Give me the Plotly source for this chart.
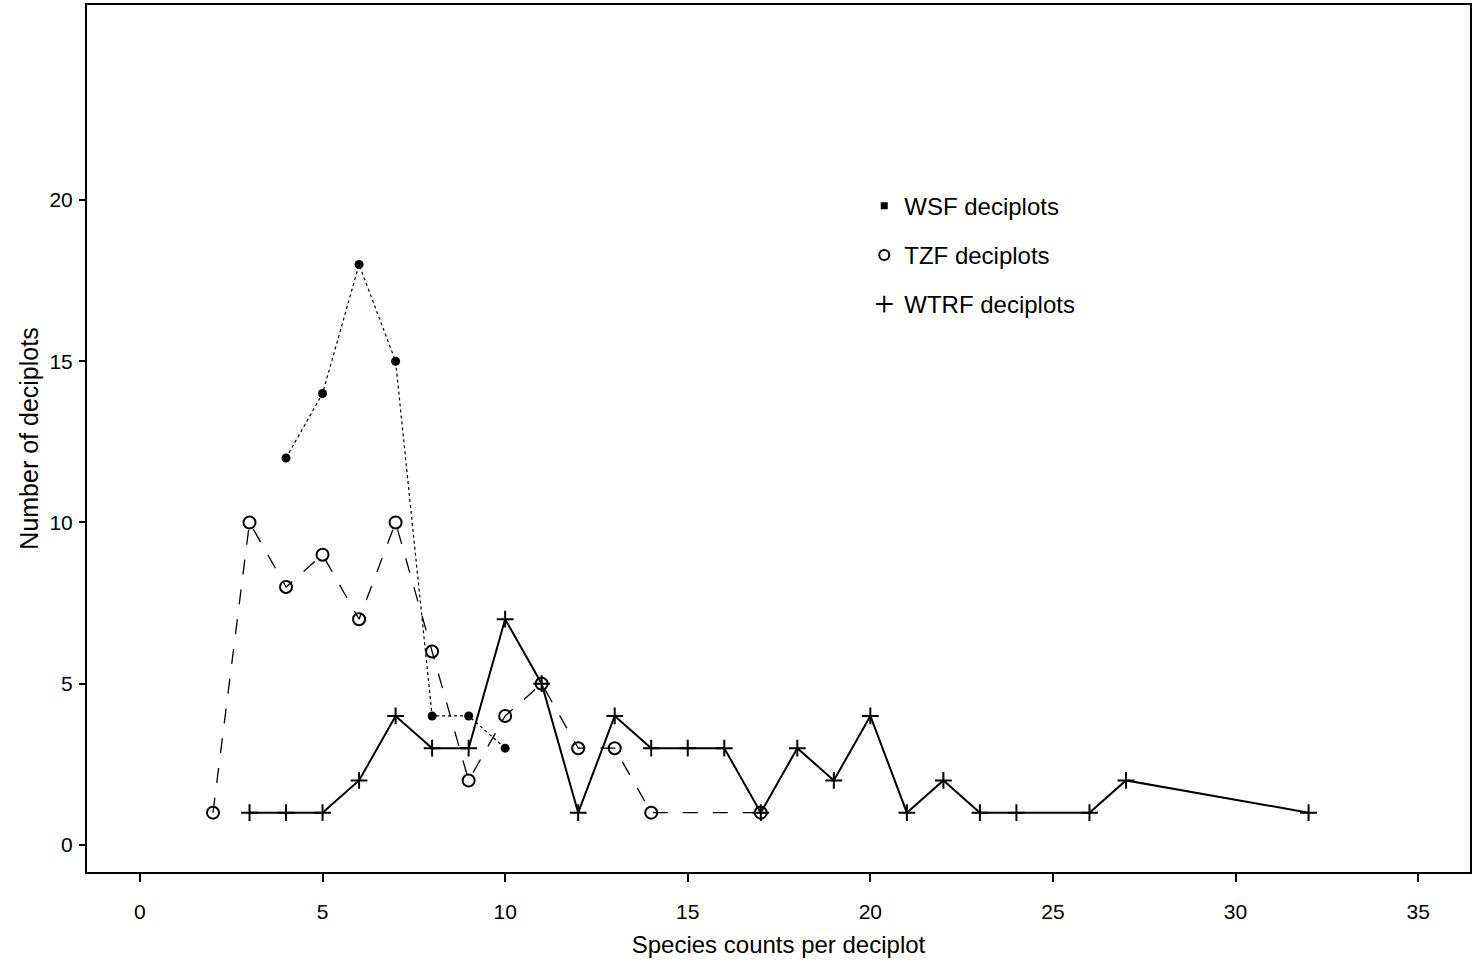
import plotly.graph_objects as go

# WSF deciplots
wsf_x = [4, 5, 6, 7, 8, 9, 10]
wsf_y = [12, 14, 18, 15, 4, 4, 3]
# TZF deciplots
tzf_x = [2, 3, 4, 5, 6, 7, 8, 9, 10, 11, 12, 13, 14, 17]
tzf_y = [1, 10, 8, 9, 7, 10, 6, 2, 4, 5, 3, 3, 1, 1]
# WTRF deciplots
wtrf_x = [3, 4, 5, 6, 7, 8, 9, 10, 11, 12, 13, 14, 15, 16, 17, 18, 19, 20, 21, 22, 23, 24, 26, 27, 32]
wtrf_y = [1, 1, 1, 2, 4, 3, 3, 7, 5, 1, 4, 3, 3, 3, 1, 3, 2, 4, 1, 2, 1, 1, 1, 2, 1]

x_ticks = [0, 5, 10, 15, 20, 25, 30, 35]
y_ticks = [0, 5, 10, 15, 20]

FONT = "Liberation Sans, Arial, Helvetica, sans-serif"

fig = go.Figure()

fig.add_trace(go.Scatter(
    x=wsf_x, y=wsf_y, mode="lines+markers", showlegend=False,
    line=dict(color="black", width=1.2, dash="dot"),
    marker=dict(symbol="circle", size=9, color="black"),
))
fig.add_trace(go.Scatter(
    x=tzf_x, y=tzf_y, mode="lines+markers", showlegend=False,
    line=dict(color="black", width=1.3, dash="longdash"),
    marker=dict(symbol="circle-open", size=12, color="black", line=dict(width=2, color="black")),
))
fig.add_trace(go.Scatter(
    x=wtrf_x, y=wtrf_y, mode="lines+markers", showlegend=False,
    line=dict(color="black", width=2),
    marker=dict(symbol="cross-thin", size=12, color="black", line=dict(width=2, color="black")),
))

# legend entries (marker only)
fig.add_trace(go.Scatter(
    x=[None], y=[None], mode="markers", name="WSF deciplots", legendgroup="a",
    marker=dict(symbol="square", size=7, color="black"),
))
fig.add_trace(go.Scatter(
    x=[None], y=[None], mode="markers", name="TZF deciplots", legendgroup="b",
    marker=dict(symbol="circle-open", size=10, color="black", line=dict(width=2, color="black")),
))
fig.add_trace(go.Scatter(
    x=[None], y=[None], mode="markers", name="WTRF deciplots", legendgroup="c",
    marker=dict(symbol="cross-thin", size=12, color="black", line=dict(width=2, color="black")),
))

fig.update_layout(
    width=1475, height=967,
    margin=dict(l=87, r=3, t=5, b=95),
    paper_bgcolor="white", plot_bgcolor="white",
    font=dict(family=FONT, size=21, color="black"),
    showlegend=True,
    legend=dict(
        x=0.562, y=0.794, xanchor="left", yanchor="top",
        bgcolor="rgba(0,0,0,0)", borderwidth=0,
        font=dict(family=FONT, size=24, color="black"),
        traceorder="grouped", tracegroupgap=15, itemwidth=30,
    ),
    xaxis=dict(
        range=[-1.45, 36.42], tickvals=x_ticks, ticktext=[str(v) for v in x_ticks],
        showgrid=False, zeroline=False, showline=True, linecolor="black", linewidth=2,
        mirror=True, ticks="outside", ticklen=8, tickwidth=1.5, tickcolor="black",
        ticklabelstandoff=12,
        tickfont=dict(family=FONT, size=21),
        title=dict(text="Species counts per deciplot", font=dict(family=FONT, size=24), standoff=14),
    ),
    yaxis=dict(
        range=[-0.84, 26.05], tickvals=y_ticks, ticktext=[str(v) for v in y_ticks],
        showgrid=False, zeroline=False, showline=True, linecolor="black", linewidth=2,
        mirror=True, ticks="outside", ticklen=6, tickwidth=1.5, tickcolor="black",
        ticklabelstandoff=2,
        tickfont=dict(family=FONT, size=21),
        title=dict(text="Number of deciplots", font=dict(family=FONT, size=25), standoff=4),
    ),
)

fig.write_html("out.html", config={"displayModeBar": False},
               post_script="document.body.style.margin='0px';")
